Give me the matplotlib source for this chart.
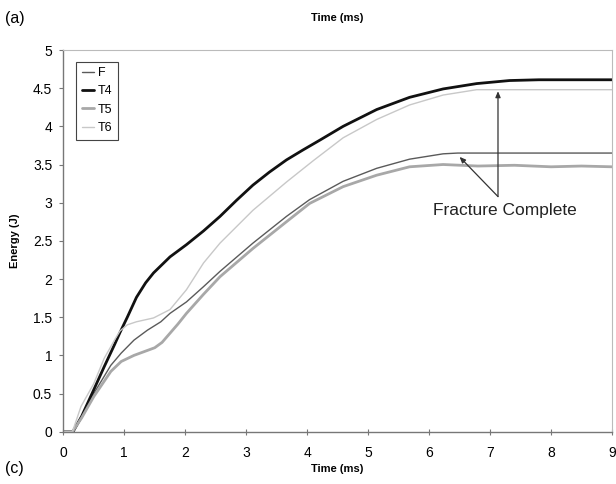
import matplotlib
matplotlib.use("Agg")
import matplotlib.pyplot as plt

plt.rcParams['font.family'] = ['Liberation Sans', 'DejaVu Sans']

# ---- data ----
x_T4 = [0, 0.16, 0.3, 0.5, 0.67, 0.84, 0.93, 1.05, 1.2, 1.35, 1.48, 1.75, 2.02, 2.3, 2.57,
        2.84, 3.11, 3.38, 3.66, 3.93, 4.21, 4.59, 5.14, 5.68, 6.23, 6.78, 7.32, 7.8, 9.0]
y_T4 = [0, 0, 0.2, 0.55, 0.85, 1.14, 1.3, 1.5, 1.76, 1.95, 2.08, 2.29, 2.45, 2.63, 2.82,
        3.03, 3.23, 3.4, 3.56, 3.69, 3.82, 4.0, 4.22, 4.38, 4.49, 4.56, 4.6, 4.61, 4.61]

x_T6 = [0, 0.15, 0.29, 0.5, 0.67, 0.84, 0.93, 1.05, 1.2, 1.48, 1.75, 2.02, 2.3, 2.57,
        3.11, 3.66, 4.1, 4.59, 5.14, 5.68, 6.23, 6.78, 7.2, 9.0]
y_T6 = [0, 0, 0.33, 0.63, 0.96, 1.2, 1.32, 1.4, 1.44, 1.49, 1.6, 1.86, 2.21, 2.47,
        2.9, 3.27, 3.55, 3.85, 4.09, 4.28, 4.41, 4.48, 4.48, 4.48]

x_F = [0, 0.15, 0.3, 0.5, 0.78, 0.95, 1.16, 1.38, 1.6, 1.75, 2.02, 2.3, 2.57, 3.11,
       3.66, 4.04, 4.59, 5.14, 5.68, 6.23, 6.47, 7.0, 9.0]
y_F = [0, 0, 0.2, 0.5, 0.87, 1.03, 1.2, 1.33, 1.44, 1.55, 1.7, 1.9, 2.1, 2.47,
       2.82, 3.04, 3.28, 3.45, 3.57, 3.64, 3.65, 3.65, 3.65]

x_T5 = [0, 0.15, 0.3, 0.5, 0.78, 0.95, 1.16, 1.33, 1.5, 1.62, 1.75, 1.88, 2.02, 2.3,
        2.57, 3.11, 3.66, 4.04, 4.59, 5.14, 5.68, 6.23, 6.8, 7.4, 8.0, 8.5, 9.0]
y_T5 = [0, 0, 0.18, 0.46, 0.79, 0.92, 1.0, 1.05, 1.1, 1.17, 1.29, 1.41, 1.55, 1.8,
        2.03, 2.4, 2.75, 2.99, 3.21, 3.36, 3.47, 3.5, 3.48, 3.49, 3.47, 3.48, 3.47]

x_ticks = [0, 1, 2, 3, 4, 5, 6, 7, 8, 9]
y_ticks = [0, 0.5, 1, 1.5, 2, 2.5, 3, 3.5, 4, 4.5, 5]
y_ticklabels = ['0', '0.5', '1', '1.5', '2', '2.5', '3', '3.5', '4', '4.5', '5']

annot_text = "Fracture Complete"
annot_origin = (7.13, 3.08)
annot_targets = [(7.13, 4.46), (6.5, 3.6)]

# ---- figure ----
fig = plt.figure(figsize=(6.16, 4.84), dpi=100)
ax = fig.add_axes([63.3/616, 52.3/484, 548.7/616, 381.7/484])

kw = dict(solid_joinstyle='round', solid_capstyle='round')
ax.plot(x_F, y_F, color='#5a5a5a', lw=1.0, label='F', **kw)
ax.plot(x_T4, y_T4, color='#111111', lw=2.0, label='T4', **kw)
ax.plot(x_T5, y_T5, color='#a8a8a8', lw=2.0, label='T5', **kw)
ax.plot(x_T6, y_T6, color='#c8c8c8', lw=1.0, label='T6', **kw)

ax.set_xlim(0, 9)
ax.set_ylim(0, 5)
ax.set_xticks(x_ticks)
ax.set_yticks(y_ticks)
ax.set_yticklabels(y_ticklabels)
ax.tick_params(axis='both', labelsize=10, length=3, color='#777777')
ax.tick_params(axis='y', pad=5)
ax.tick_params(axis='x', direction='inout', length=5, pad=8)

for s in ['left', 'bottom']:
    ax.spines[s].set_color('#777777')
    ax.spines[s].set_linewidth(1.0)
for s in ['top', 'right']:
    ax.spines[s].set_color('#bbbbbb')
    ax.spines[s].set_linewidth(0.8)

ax.set_xlabel('Time (ms)', fontsize=8, fontweight='bold', labelpad=3)
ax.set_ylabel('Energy (J)', fontsize=8, fontweight='bold', labelpad=9)

leg = ax.legend(loc='upper left', bbox_to_anchor=(0.012, 0.986), fontsize=9,
                handlelength=1.0, handletextpad=0.3, borderpad=0.45,
                labelspacing=0.5, fancybox=False, framealpha=1)
leg.get_frame().set_edgecolor('#444444')
leg.get_frame().set_linewidth(0.8)

ax.text(7.25, 2.9, annot_text, fontsize=12.5, ha='center', va='center', color='#222222')
for tgt in annot_targets:
    ax.annotate('', xy=tgt, xytext=annot_origin,
                arrowprops=dict(arrowstyle='-|>,head_length=0.35,head_width=0.15',
                                color='#333333', lw=0.9, shrinkA=0, shrinkB=0))

fig.text(337/616, 1 - 18/484, 'Time (ms)', fontsize=8, fontweight='bold',
         ha='center', va='center')
fig.text(5/616, 1 - 18/484, '(a)', fontsize=11.5, ha='left', va='center')
fig.text(5/616, 1 - 469/484, '(c)', fontsize=11.5, ha='left', va='center')

fig.savefig('out.png', dpi=100)
